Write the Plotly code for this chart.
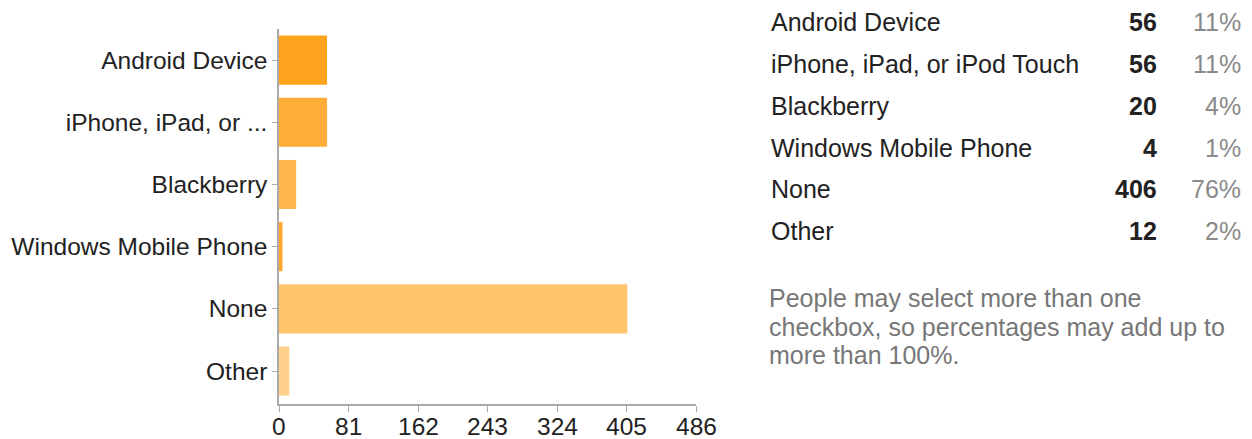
import plotly.graph_objects as go

categories = ["Android Device", "iPhone, iPad, or iPod Touch", "Blackberry",
              "Windows Mobile Phone", "None", "Other"]
axis_labels = ["Android Device", "iPhone, iPad, or ...", "Blackberry",
               "Windows Mobile Phone", "None", "Other"]
counts = [56, 56, 20, 4, 406, 12]
percents = ["11%", "11%", "4%", "1%", "76%", "2%"]
bar_colors = ["#FFA31C", "#FFAD39", "#FFB84F", "#FFA62A", "#FFC46C", "#FFD08B"]
x_ticks = [0, 81, 162, 243, 324, 405, 486]
note_lines = ["People may select more than one",
              "checkbox, so percentages may add up to",
              "more than 100%."]

FONT = "Liberation Sans, Arial, Helvetica, sans-serif"
OFF = 8  # page body margin
W, H = 1252 - OFF, 439 - OFF
L, R_EDGE, T, B_EDGE = 279 - OFF, 696 - OFF, 29 - OFF, 404 - OFF

def px_x(px):
    return (px - OFF - L) / (R_EDGE - L)

def px_y(py):
    return (B_EDGE - (py - OFF)) / (B_EDGE - T)

fig = go.Figure()
fig.add_trace(go.Bar(
    x=counts, y=list(range(len(categories))), orientation="h",
    marker=dict(color=bar_colors, line=dict(width=0)),
    width=0.79, hoverinfo="skip",
))

fig.update_layout(
    width=W, height=H,
    margin=dict(l=L, r=W - R_EDGE, t=T, b=H - B_EDGE, pad=0),
    paper_bgcolor="white", plot_bgcolor="white",
    showlegend=False,
    font=dict(family=FONT, color="#222222"),
    xaxis=dict(range=[0, 486], tickvals=x_ticks, showticklabels=False,
               showgrid=False, zeroline=False, showline=True, linecolor="#AAAAAA",
               linewidth=1.5, ticks="outside", ticklen=6, tickcolor="#AAAAAA",
               automargin=False),
    yaxis=dict(range=[5.53, -0.5], tickvals=list(range(len(categories))),
               ticktext=axis_labels, showgrid=False, zeroline=False, showline=True,
               linecolor="#AAAAAA", linewidth=1.5, ticks="outside", ticklen=5,
               tickcolor="#AAAAAA", automargin=False,
               tickfont=dict(size=24.5, color="#222222", family=FONT)),
)

anns = []
# x-axis tick labels, placed at the axis' own data positions
for v in x_ticks:
    anns.append(dict(x=v, y=px_y(427), xref="x", yref="paper", text=str(v),
                     showarrow=False, xanchor="center", yanchor="middle",
                     font=dict(size=24.5, color="#222222", family=FONT)))

row_y = [22, 64, 106, 148, 189, 231]
for i, cat in enumerate(categories):
    yy = px_y(row_y[i])
    anns.append(dict(x=px_x(769), y=yy, xref="paper", yref="paper", text=cat,
                     showarrow=False, xanchor="left", yanchor="middle",
                     font=dict(size=25, color="#222222", family=FONT)))
    anns.append(dict(x=px_x(1159), y=yy, xref="paper", yref="paper",
                     text="<b>%d</b>" % counts[i], showarrow=False,
                     xanchor="right", yanchor="middle",
                     font=dict(size=25, color="#222222", family=FONT)))
    anns.append(dict(x=px_x(1243), y=yy, xref="paper", yref="paper", text=percents[i],
                     showarrow=False, xanchor="right", yanchor="middle",
                     font=dict(size=25, color="#8A8A8A", family=FONT)))
note_y = [298, 327, 355]
for line, ny in zip(note_lines, note_y):
    anns.append(dict(x=px_x(767), y=px_y(ny), xref="paper", yref="paper", text=line,
                     showarrow=False, xanchor="left", yanchor="middle", align="left",
                     font=dict(size=25, color="#777777", family=FONT)))
fig.update_layout(annotations=anns)

fig.write_html("out.html")
